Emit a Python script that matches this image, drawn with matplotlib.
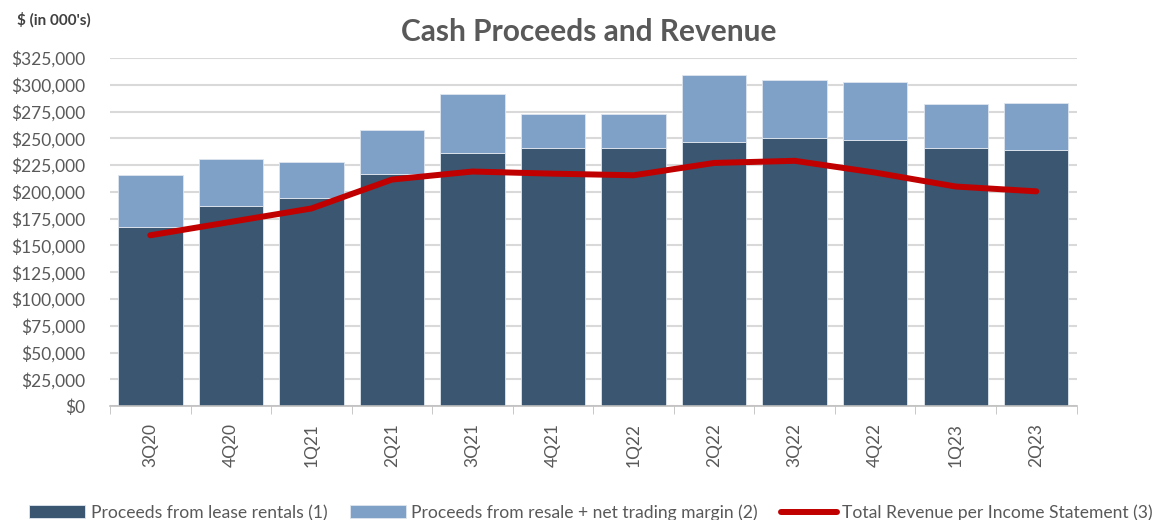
import numpy as np
import matplotlib
matplotlib.use("Agg")
from matplotlib import pyplot as plt
from matplotlib.ticker import FuncFormatter, MultipleLocator

plt.rcParams['font.family'] = ['Lato', 'DejaVu Sans']

# data, in $000's
quarters = ["3Q20", "4Q20", "1Q21", "2Q21", "3Q21", "4Q21",
            "1Q22", "2Q22", "3Q22", "4Q22", "1Q23", "2Q23"]
lease_rentals = [167000, 186500, 194000, 216500, 236000, 240500,
                 241000, 247000, 250500, 248000, 240500, 239500]
total_proceeds = [215500, 231000, 228000, 258000, 291000, 273000,
                  272500, 309000, 304000, 303000, 282500, 283000]
total_revenue = [159500, 172000, 184500, 211500, 219000, 217000,
                 215500, 227000, 229000, 218000, 205000, 200500]
resale_margin = [t - l for t, l in zip(total_proceeds, lease_rentals)]

dark = "#3B5670"
light = "#7FA1C8"
red = "#C00000"
gray = "#595959"

fig = plt.figure(figsize=(11.52, 5.2), dpi=100)
ax = fig.add_axes([0.0955, 0.219, 0.839, 0.6695])

x = np.arange(len(quarters))
b1 = ax.bar(x, lease_rentals, width=0.8, color=dark, edgecolor="#dfe6ee", linewidth=0.6,
            label="Proceeds from lease rentals (1)", zorder=2)
b2 = ax.bar(x, resale_margin, width=0.8, bottom=lease_rentals, color=light, edgecolor="#dfe6ee",
            linewidth=0.6, label="Proceeds from resale + net trading margin (2)", zorder=2)
ln, = ax.plot(x, total_revenue, color=red, linewidth=4.3, solid_capstyle="round",
              solid_joinstyle="round", label="Total Revenue per Income Statement (3)", zorder=3)

ax.set_xlim(-0.5, len(quarters) - 0.5)
ax.set_ylim(0, 325000)
ax.yaxis.set_major_locator(MultipleLocator(25000))
ax.yaxis.set_major_formatter(FuncFormatter(lambda v, p: f"${v:,.0f}"))
ax.grid(axis="y", color="#D9D9D9", linewidth=1.5, zorder=0)
ax.set_axisbelow(True)

ax.set_xticks(x)
ax.set_xticklabels(quarters, rotation=90)
ax.set_xticks(np.arange(len(quarters) + 1) - 0.5, minor=True)
ax.tick_params(axis="x", which="major", length=0, pad=12, labelsize=12.5, labelcolor=gray)
ax.tick_params(axis="x", which="minor", length=6, color="#BFBFBF")
ax.tick_params(axis="y", length=0, pad=18, labelsize=12.5, labelcolor=gray)

for s in ["top", "right", "left"]:
    ax.spines[s].set_visible(False)
ax.spines["bottom"].set_color("#BFBFBF")
ax.spines["bottom"].set_linewidth(1.2)

fig.text(0.511, 0.938, "Cash Proceeds and Revenue", ha="center", va="center",
         fontsize=21.5, fontweight="bold", color=gray)
fig.text(0.015, 0.962, "$ (in 000's)", ha="left", va="center",
         fontsize=11, fontweight="bold", color="#404040")

fig.legend(handles=[b1, b2, ln], loc="center", bbox_to_anchor=(0.513, 0.014), ncol=3,
           frameon=False, fontsize=12.6, labelcolor=gray, handlelength=3.2, handleheight=0.75,
           handletextpad=0.3, columnspacing=1.3)

fig.savefig("out.png", dpi=100)
